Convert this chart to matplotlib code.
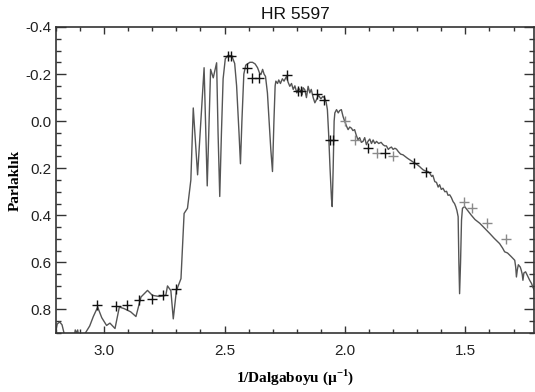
import matplotlib
matplotlib.use("Agg")
import matplotlib.pyplot as plt
from matplotlib.ticker import MultipleLocator, FormatStrFormatter

plt.rcParams['font.family'] = ['Liberation Sans', 'DejaVu Sans']
plt.rcParams['mathtext.fontset'] = 'custom'
plt.rcParams['mathtext.rm'] = 'Liberation Serif'
plt.rcParams['mathtext.bf'] = 'Liberation Serif:bold'

# Spectrum (1/wavelength in 1/micron, magnitude)
wave = [3.205, 3.195, 3.185, 3.175, 3.162, 3.125, 3.12, 3.115, 3.11, 3.105,
        3.09, 3.075, 3.06, 3.045, 3.027, 3.01, 2.99, 2.976, 2.955, 2.945,
        2.937, 2.918, 2.89, 2.868, 2.847, 2.82, 2.80, 2.77, 2.744, 2.737,
        2.723, 2.713, 2.70, 2.681, 2.668, 2.654, 2.64, 2.63, 2.612, 2.585,
        2.572, 2.558, 2.547, 2.533, 2.527, 2.52, 2.513, 2.506, 2.497, 2.485,
        2.47, 2.458, 2.45, 2.44, 2.434, 2.428, 2.42, 2.412, 2.405, 2.395,
        2.384, 2.373, 2.363, 2.355, 2.349, 2.342, 2.336, 2.33, 2.322, 2.315,
        2.308, 2.301, 2.295, 2.29, 2.287, 2.28, 2.275, 2.268, 2.26, 2.253,
        2.243, 2.236, 2.229, 2.222, 2.215, 2.208, 2.2, 2.193, 2.185, 2.178,
        2.174, 2.167, 2.16, 2.153, 2.146, 2.14, 2.132, 2.125, 2.118, 2.11,
        2.1, 2.092, 2.084, 2.078, 2.073, 2.068, 2.062, 2.056, 2.053, 2.049,
        2.045, 2.042, 2.035, 2.028, 2.022, 2.015, 2.008, 2.001, 1.994, 1.987,
        1.98, 1.973, 1.967, 1.96, 1.953, 1.946, 1.939, 1.932, 1.925, 1.918,
        1.911, 1.904, 1.897, 1.89, 1.883, 1.876, 1.869, 1.86, 1.85, 1.842,
        1.835, 1.828, 1.82, 1.814, 1.807, 1.80, 1.793, 1.786, 1.778, 1.769,
        1.759, 1.75, 1.74, 1.731, 1.722, 1.71, 1.70, 1.69, 1.683, 1.675,
        1.665, 1.655, 1.648, 1.64, 1.635, 1.627, 1.62, 1.613, 1.607, 1.60,
        1.593, 1.585, 1.578, 1.572, 1.565, 1.558, 1.551, 1.545, 1.54, 1.535,
        1.53, 1.527, 1.524, 1.52, 1.516, 1.512, 1.503, 1.49, 1.475, 1.46,
        1.44, 1.42, 1.399, 1.38, 1.358, 1.345, 1.337, 1.325, 1.31, 1.295,
        1.291, 1.288, 1.284, 1.28, 1.272, 1.268, 1.264, 1.261, 1.257, 1.25,
        1.245, 1.238, 1.233, 1.225, 1.22, 1.21]
mag = [0.92, 0.862, 0.853, 0.865, 0.92, 0.92, 0.887, 0.90, 0.887, 0.92,
       0.92, 0.895, 0.87, 0.83, 0.79, 0.835, 0.868, 0.858, 0.881, 0.83,
       0.79, 0.796, 0.81, 0.83, 0.747, 0.719, 0.74, 0.745, 0.74, 0.70,
       0.72, 0.84, 0.72, 0.669, 0.392, 0.37, 0.25, -0.056, 0.228, -0.227,
       0.275, -0.22, -0.184, -0.248, 0.05, 0.32, 0.05, -0.18, -0.265, -0.28,
       -0.277, -0.245, -0.15, 0.05, 0.181, 0.0, -0.2, -0.238, -0.243, -0.25,
       -0.25, -0.243, -0.227, -0.205, -0.198, -0.22, -0.2, -0.19, -0.12, 0.0,
       0.12, 0.214, 0.0, -0.15, -0.17, -0.16, -0.175, -0.16, -0.18, -0.17,
       -0.19, -0.165, -0.148, -0.16, -0.135, -0.15, -0.12, -0.14, -0.13, -0.112,
       -0.142, -0.134, -0.10, -0.148, -0.12, -0.135, -0.10, -0.078, -0.092, -0.11,
       -0.095, -0.105, -0.099, -0.08, -0.049, 0.05, 0.20, 0.33, 0.363, 0.20,
       0.0, -0.035, -0.049, -0.035, -0.045, -0.049, -0.02, 0.001, 0.02, 0.036,
       0.025, 0.03, 0.04, 0.036, 0.06, 0.079, 0.07, 0.09, 0.086, 0.07,
       0.10, 0.085, 0.076, 0.095, 0.08, 0.095, 0.086, 0.095, 0.09, 0.10,
       0.105, 0.105, 0.12, 0.114, 0.11, 0.12, 0.115, 0.119, 0.13, 0.14,
       0.143, 0.15, 0.158, 0.164, 0.17, 0.178, 0.185, 0.193, 0.20, 0.207,
       0.212, 0.214, 0.221, 0.235, 0.23, 0.257, 0.26, 0.28, 0.27, 0.29,
       0.285, 0.30, 0.298, 0.315, 0.313, 0.325, 0.342, 0.35, 0.363, 0.38,
       0.406, 0.60, 0.733, 0.60, 0.42, 0.37, 0.363, 0.38, 0.40, 0.418,
       0.434, 0.455, 0.477, 0.498, 0.52, 0.54, 0.555, 0.56, 0.575, 0.591,
       0.62, 0.662, 0.63, 0.61, 0.62, 0.633, 0.65, 0.676, 0.645, 0.64,
       0.65, 0.665, 0.676, 0.69, 0.705, 0.725]

# Photometric points
phot_black_x = [3.031, 2.951, 2.905, 2.854, 2.802, 2.757, 2.702,
                2.485, 2.472, 2.405, 2.385, 2.355,
                2.240, 2.195, 2.183, 2.118, 2.088, 2.063, 2.049,
                1.905, 1.835, 1.713, 1.664]
phot_black_y = [0.779, 0.787, 0.783, 0.759, 0.754, 0.740, 0.712,
                -0.275, -0.275, -0.225, -0.185, -0.185,
                -0.198, -0.130, -0.130, -0.115, -0.088, 0.079, 0.079,
                0.114, 0.136, 0.176, 0.217]
phot_gray_x = [1.999, 1.958, 1.868, 1.800, 1.506, 1.473, 1.409, 1.330]
phot_gray_y = [0.000, 0.079, 0.136, 0.147, 0.342, 0.370, 0.432, 0.501]

fig = plt.figure(figsize=(5.35, 3.92), dpi=100)
ax = fig.add_axes([56/535, 1 - 333/392, (534 - 56)/535, (333 - 27)/392])

ax.plot(wave, mag, color='#555555', lw=1.0, zorder=2)
ax.plot(phot_gray_x, phot_gray_y, linestyle='none', marker='+', ms=6.5,
        mew=1.0, color='#8a8a8a', zorder=3)
ax.plot(phot_black_x, phot_black_y, linestyle='none', marker='+', ms=6.5,
        mew=1.0, color='#111111', zorder=4)

ax.set_xlim(3.2, 1.215)
ax.set_ylim(0.9, -0.4)

ax.xaxis.set_major_locator(MultipleLocator(0.5))
ax.xaxis.set_minor_locator(MultipleLocator(0.1))
ax.yaxis.set_major_locator(MultipleLocator(0.2))
ax.yaxis.set_minor_locator(MultipleLocator(0.05))
ax.xaxis.set_major_formatter(FormatStrFormatter('%.1f'))
ax.yaxis.set_major_formatter(FormatStrFormatter('%.1f'))

ax.tick_params(which='both', direction='in', top=True, right=True,
               color='#333333', width=1.0, labelsize=11, labelcolor='#222222')
ax.tick_params(axis='y', which='major', length=7, pad=3)
ax.tick_params(axis='y', which='minor', length=3.5)
ax.tick_params(axis='x', which='major', length=5, pad=8)
ax.tick_params(axis='x', which='minor', length=3)

for sp in ax.spines.values():
    sp.set_color('#333333')
    sp.set_linewidth(1.2)

ax.set_title('HR 5597', fontsize=12.5, pad=6, color='#111111')
ax.set_xlabel('1/Dalgaboyu (µ$^{\\mathbf{-1}}$)', family='Liberation Serif',
              fontweight='bold', fontsize=11, labelpad=7)
ax.set_ylabel('Parlaklık', family='Liberation Serif', fontweight='bold',
              fontsize=11, labelpad=3)

fig.savefig('out.png', dpi=100)
